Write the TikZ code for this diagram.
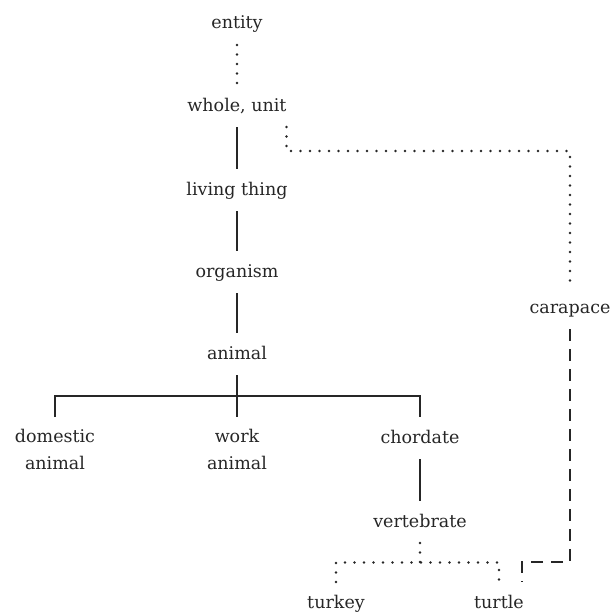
\documentclass[tikz,border=0pt]{standalone}
\usepackage{fontspec}
\setmainfont{DejaVu Serif}
\usetikzlibrary{calc}
\definecolor{ink}{HTML}{262626}
\tikzset{
  term/.style={inner sep=0pt, outer xsep=0pt, outer ysep=12pt, text=ink,
               font=\fontsize{17.5}{27}\selectfont, text height=14pt, text depth=4pt},
  pair/.style={inner sep=0pt, outer xsep=0pt, outer ysep=12pt, text=ink,
               font=\fontsize{17.5}{27}\selectfont, align=center},
  isa/.style={draw=ink, line width=2.9pt},
  partof/.style={draw=ink, line width=2.9pt, line cap=round, dash pattern=on 0pt off 9.5pt},
  shell/.style={draw=ink, line width=2.9pt, dash pattern=on 12pt off 8pt},
}
\begin{document}
\begin{tikzpicture}[x=1pt, y=-1pt]
\useasboundingbox (0,0) rectangle (613,615);

% hypernym chain
\node[term, anchor=base] (entity)   at (237,29)  {entity};
\node[term, anchor=base] (whole)    at (237,111) {whole, unit};
\node[term, anchor=base] (living)   at (237,195) {living thing};
\node[term, anchor=base] (organism) at (237,277) {organism};
\node[term, anchor=base] (animal)   at (237,359) {animal};

% children of animal
\node[pair, anchor=north] (domestic) at (55,417)  {domestic\\animal};
\node[pair, anchor=north] (work)     at (237,417) {work\\animal};
\node[term, anchor=base]  (chordate) at (420,443) {chordate};
\node[term, anchor=base]  (vert)     at (420,527) {vertebrate};
\node[term, anchor=base]  (turkey)   at (336,608) {turkey};
\node[term, anchor=base]  (turtle)   at (499,608) {turtle};

% part of the turtle
\node[term, anchor=base]  (carapace) at (570,313) {carapace};

% is-a links
\draw[partof] (entity.south) -- (whole.north);
\draw[isa] (whole.south) -- (living.north);
\draw[isa] (living.south) -- (organism.north);
\draw[isa] (organism.south) -- (animal.north);
\draw[isa] (animal.south) -- (work.north);
\coordinate (bus) at ($(animal.south)!0.5!(work.north)$);
\draw[isa] (domestic.north) |- (bus) -| (chordate.north);
\draw[isa] (chordate.south) -- (vert.north);

% vertebrate branches
\coordinate (vmid) at ($(vert.south)!0.5!(turkey.north)$);
\coordinate (vbus) at (vert.south |- vmid);
\draw[partof] (vert.south) -- (vbus);
\draw[partof] (turkey.north) |- (vbus) -| (turtle.north);

% meronym links
\draw[partof] (whole.south east) -- ++(0,24) -| (carapace.north);
\coordinate (hook) at (522,562);
\draw[shell] (carapace.south) |- (hook) -- (hook |- turtle.north);
\end{tikzpicture}
\end{document}
